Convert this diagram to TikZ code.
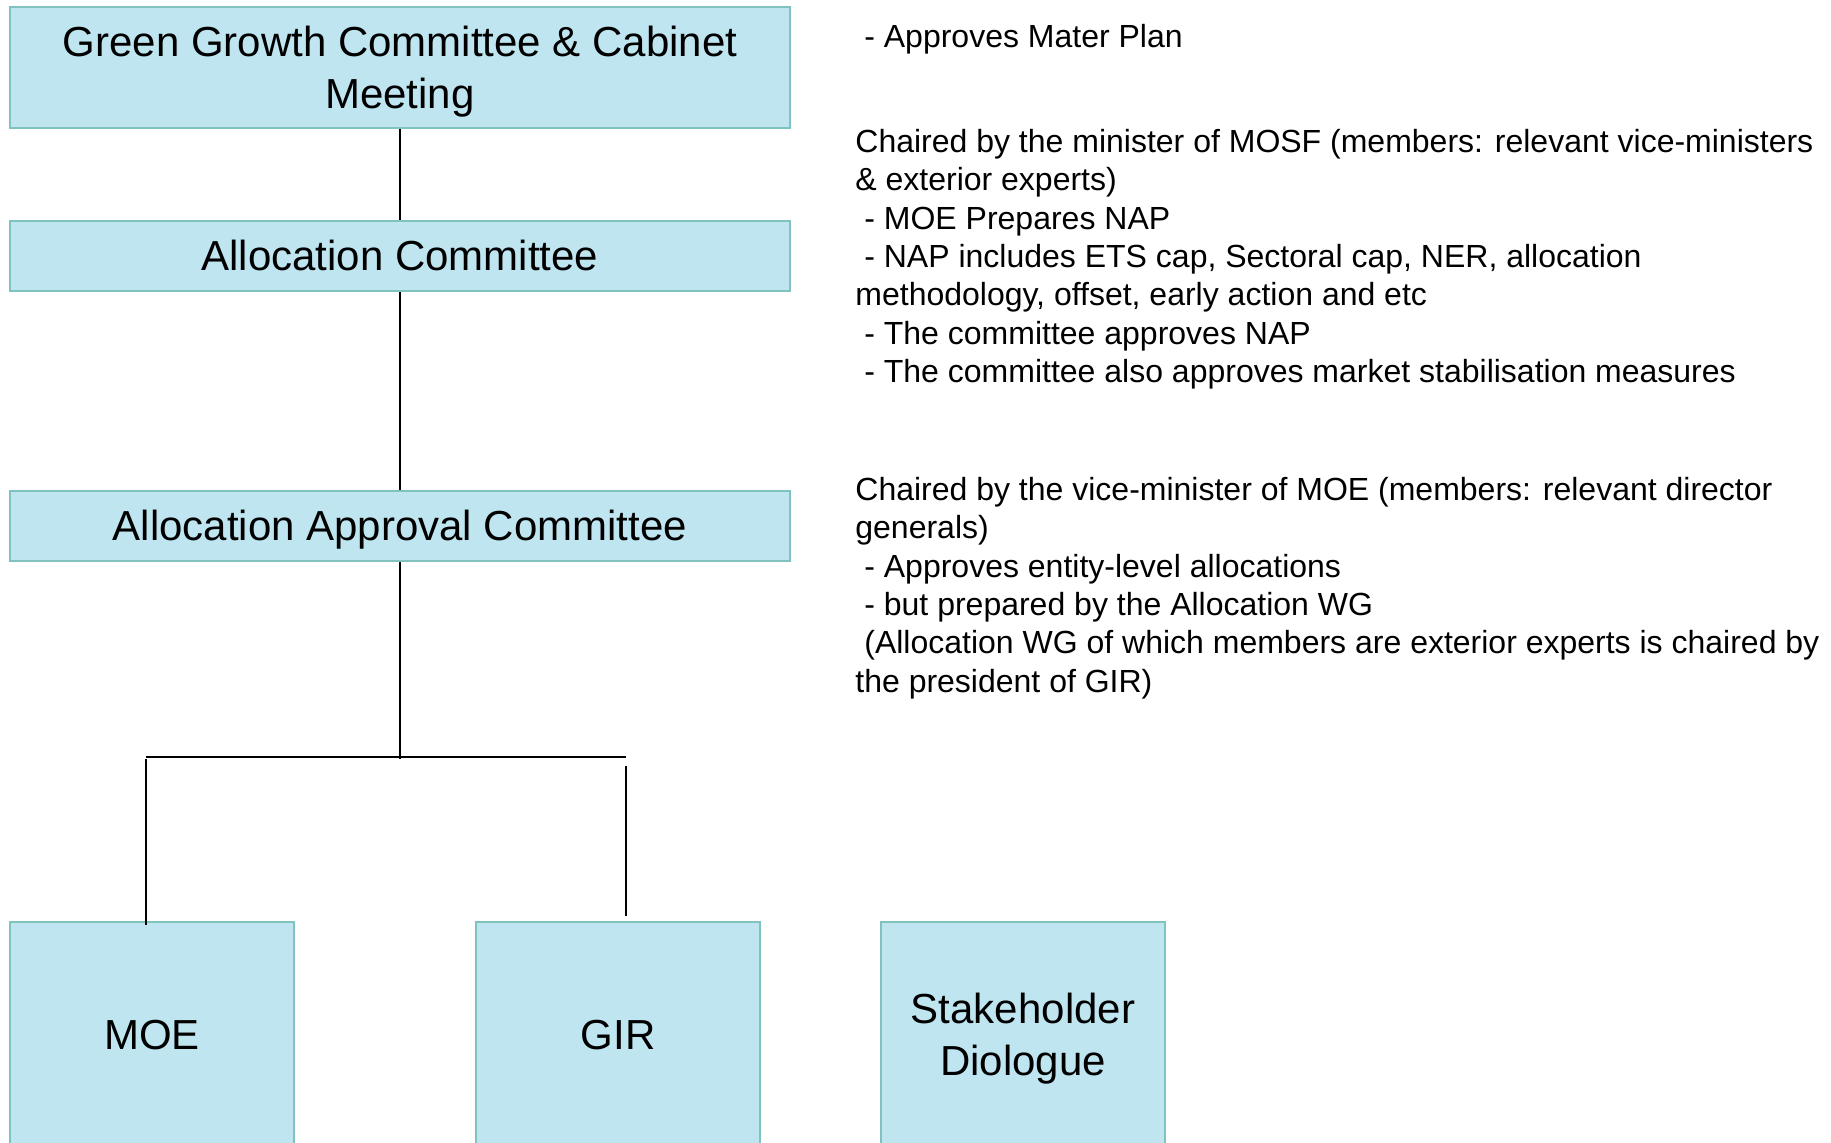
\documentclass[tikz,border=0pt]{standalone}
\usepackage{fontspec}
\setmainfont{Liberation Sans}
\usetikzlibrary{positioning}
\definecolor{boxfill}{RGB}{190,229,240}
\definecolor{boxline}{RGB}{128,194,190}
\newcommand{\boxstrut}{\rule[-0.212em]{0pt}{1.117em}}

\begin{document}
\begin{tikzpicture}[
    x=0.5pt, y=-0.5pt,
    box/.style={rectangle, draw=boxline, fill=boxfill, line width=1pt, minimum width=390pt, minimum height=35pt, inner sep=0pt, align=center, font=\fontsize{21}{26}\selectfont},
    unit/.style={box, minimum width=142pt, minimum height=113pt},
    note/.style={anchor=north west, inner sep=0pt, align=left, font=\fontsize{16}{19.2}\selectfont},
    link/.style={line width=1pt}
]
    \clip (0,0) rectangle (1831,1143);
    \node[box, minimum height=60.5pt] (GGC) at (400,67.5) {\boxstrut Green Growth Committee \& Cabinet\\\boxstrut Meeting};
    \node[box, below=45.5pt of GGC] (AC) {\boxstrut Allocation Committee};
    \node[box, below=99pt of AC] (AAC) {\boxstrut Allocation Approval Committee};
    \node[unit, below right=179.5pt and 0pt of AAC.south west] (MOE) {\boxstrut MOE};
    \node[unit, right=90pt of MOE] (GIR) {\boxstrut GIR};
    \node[unit, right=59.5pt of GIR] (SD) {\boxstrut Stakeholder\\\boxstrut Diologue};

    \node[note] (noteGGC) at (855,20) {\strut\hspace*{.28em}- Approves Mater Plan};
    \node[note] (noteAC) at (855,125) {\strut Chaired by the minister of MOSF (members: relevant vice-ministers\\
        \& exterior experts)\\
        \hspace*{.28em}- MOE Prepares NAP\\
        \hspace*{.28em}- NAP includes ETS cap, Sectoral cap, NER, allocation\\
        methodology, offset, early action and etc\\
        \hspace*{.28em}- The committee approves NAP\\
        \hspace*{.28em}- The committee also approves market stabilisation measures};
    \node[note] (noteAAC) at (855,473) {\strut Chaired by the vice-minister of MOE (members: relevant director\\
        generals)\\
        \hspace*{.28em}- Approves entity-level allocations\\
        \hspace*{.28em}- but prepared by the Allocation WG\\
        \hspace*{.28em}(Allocation WG of which members are exterior experts is chaired by\\
        the president of GIR)};

    \coordinate (joint) at (400,759);
    \coordinate (barL) at (146,757);
    \coordinate (barR) at (626,757);

    \draw[link] (GGC) -- (AC);
    \draw[link] (AC) -- (AAC);
    \draw[link] (AAC) -- (joint);
    \draw[line width=1.4pt] (barL) -- (barR);
    \draw[link] ([yshift=-1pt]barL) -- ([yshift=-2pt]barL |- MOE.north);
    \draw[link] ([yshift=-4.5pt]barR) -- ([yshift=2.5pt]barR |- GIR.north);
\end{tikzpicture}
\end{document}
